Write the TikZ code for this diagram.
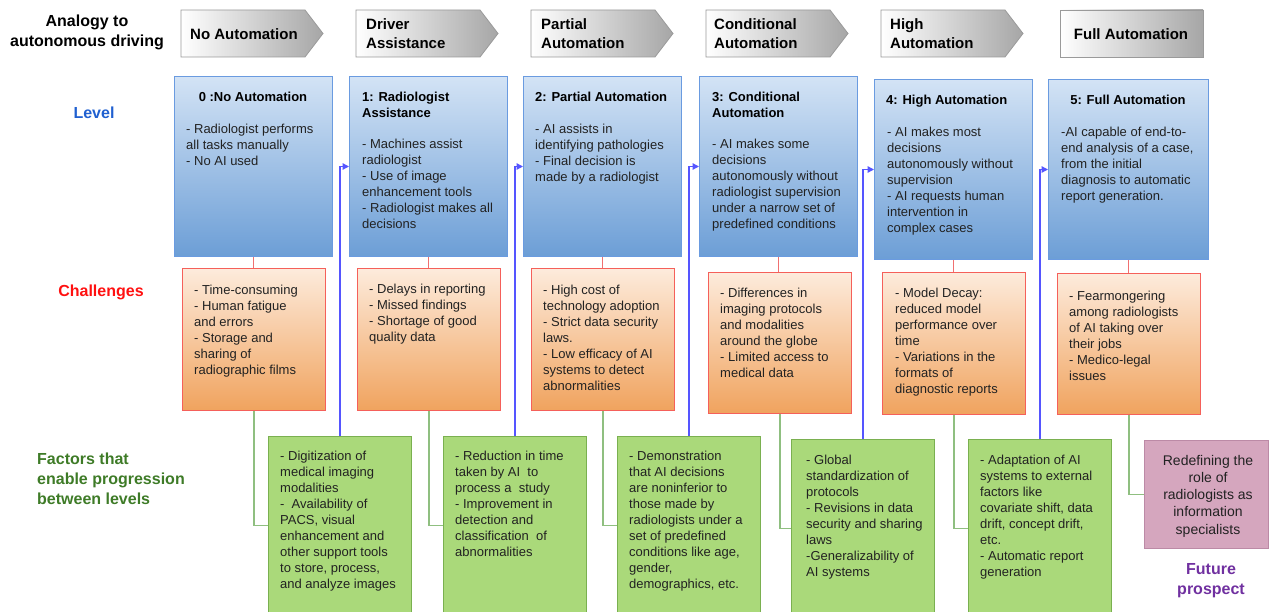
\documentclass[tikz,border=0pt]{standalone}
\usepackage{fontspec}
\setmainfont{Liberation Sans}
\usetikzlibrary{arrows.meta}
\definecolor{blueT}{HTML}{D3E3F5}
\definecolor{blueD}{HTML}{6C9ED6}
\definecolor{blueB}{HTML}{6A9BE0}
\definecolor{orT}{HTML}{FDEBDC}
\definecolor{orD}{HTML}{F0A35E}
\definecolor{orB}{HTML}{F5605A}
\definecolor{grF}{HTML}{AAD97A}
\definecolor{grB}{HTML}{7AB050}
\definecolor{pkF}{HTML}{D5A6BE}
\definecolor{pkB}{HTML}{BC8AA6}
\definecolor{redL}{HTML}{F07070}
\definecolor{grL}{HTML}{8FBF80}
\definecolor{blL}{HTML}{5555FF}
\definecolor{chevB}{HTML}{9A9A9A}
\definecolor{chevD}{HTML}{A6A6A6}
\definecolor{txtC}{HTML}{222222}
\definecolor{labBlue}{HTML}{2060D0}
\definecolor{labRed}{HTML}{FF1010}
\definecolor{labGreen}{HTML}{3E7B27}
\definecolor{labPurple}{HTML}{7030A0}
\begin{document}
\begin{tikzpicture}[x=1pt,y=1pt,
  lvl/.style={draw=blueB, line width=1pt, top color=blueT, bottom color=blueD, anchor=north west, inner sep=0, minimum width=158pt, minimum height=180pt},
  chl/.style={draw=orB, line width=1pt, top color=orT, bottom color=orD, anchor=north west, inner sep=0, minimum width=143pt, minimum height=142pt},
  fac/.style={draw=grB, line width=1pt, fill=grF, anchor=north west, inner sep=0, minimum width=143pt, minimum height=178pt},
  fut/.style={draw=pkB, line width=1pt, fill=pkF, anchor=north west, inner sep=0, minimum width=124pt, minimum height=108pt},
  txt/.style={anchor=north west, inner sep=0, align=left, font=\fontsize{13}{16}\selectfont, text=txtC},
  ttl/.style={inner sep=0, align=left, font=\bfseries\fontsize{13}{16}\selectfont, text=black},
  hdr/.style={inner sep=0, align=left, font=\bfseries\fontsize{15}{19}\selectfont, text=black},
  lab/.style={inner sep=0, font=\bfseries\fontsize{16}{20}\selectfont},
  redc/.style={draw=redL, line width=1.3pt},
  grc/.style={draw=grL, line width=1.3pt},
  blc/.style={draw=blL, line width=1.3pt, -{Triangle[length=6.5pt,width=6.5pt]}},
  chev/.style={draw=chevB, line width=0.8pt, left color=white, right color=chevD}
]
\useasboundingbox (0,0) rectangle (1269,-612);
\clip (0,0) rectangle (1269,-612);

% header chevrons
\foreach \L in {181,356,531,706,881}{
  \shade[chev] (\L,-10) -- ({\L+124},-10) -- ({\L+142},-33.5) -- ({\L+124},-57) -- (\L,-57) -- cycle;
}
\shade[chev] (1060,-10) rectangle (1203,-57);
\node[hdr, anchor=west] (h0) at (190,-34) {No Automation};
\node[hdr, anchor=west] (h1) at (366,-34) {Driver\\Assistance};
\node[hdr, anchor=west] (h2) at (541,-34) {Partial\\Automation};
\node[hdr, anchor=west] (h3) at (714,-34) {Conditional\\Automation};
\node[hdr, anchor=west] (h4) at (890,-34) {High\\Automation};
\node[hdr] (h5) at (1131,-34) {Full Automation};

% left labels
\node[lab, align=center] (lana) at (87,-32) {Analogy to\\autonomous driving};
\node[lab, text=labBlue] (llev) at (94,-113) {Level};
\node[lab, text=labRed] (lchl) at (101,-292) {Challenges};
\node[lab, text=labGreen, align=left, anchor=west] (lfac) at (37,-479) {Factors that\\enable progression\\between levels};
\node[lab, text=labPurple, align=center] (lfut) at (1211,-581) {Future\\prospect};

% level boxes
\node[lvl] (b0) at (174,-76) {};
\node[lvl] (b1) at (349,-76) {};
\node[lvl] (b2) at (523,-76) {};
\node[lvl] (b3) at (699,-76) {};
\node[lvl] (b4) at (874,-79) {};
\node[lvl, minimum width=160pt] (b5) at (1048,-79) {};

% challenge boxes
\node[chl] (o0) at (182,-268) {};
\node[chl] (o1) at (357,-268) {};
\node[chl] (o2) at (531,-268) {};
\node[chl, minimum height=141pt] (o3) at (708,-272) {};
\node[chl] (o4) at (882,-272) {};
\node[chl, minimum height=141pt] (o5) at (1057,-273) {};

% factor boxes
\node[fac] (g0) at (268,-436) {};
\node[fac] (g1) at (443,-436) {};
\node[fac] (g2) at (617,-436) {};
\node[fac] (g3) at (791,-439) {};
\node[fac] (g4) at (968,-439) {};
\node[fut] (p) at (1144,-440) {};

% connectors
\foreach \i in {0,...,5}{
  \draw[redc] (b\i.south) -- (b\i.south |- o\i.north);
}
\foreach \i in {0,...,4}{
  \draw[grc] (o\i.south) |- (g\i.west);
}
\draw[grc] (o5.south) |- (p.west);
\draw[blc] (g0.north) |- (b1.west);
\draw[blc] (g1.north) |- (b2.west);
\draw[blc] (g2.north) |- (b3.west);
\draw[blc] (g3.north) |- (b4.west);
\draw[blc] (g4.north) |- (b5.west);

% level texts
\node[ttl] (b0h) at (253,-97) {0 :No Automation};
\node[txt] (b0t) at (186,-124) {- Radiologist performs\\all tasks manually\\- No AI used};
\node[ttl, anchor=north west] (b1h) at (362,-92) {1: Radiologist\\Assistance};
\node[txt] (b1t) at (362,-139) {- Machines assist\\radiologist\\- Use of image\\enhancement tools\\- Radiologist makes all\\decisions};
\node[ttl, anchor=north west] (b2h) at (535,-92) {2: Partial Automation};
\node[txt] (b2t) at (535,-124) {- AI assists in\\identifying pathologies\\- Final decision is\\made by a radiologist};
\node[ttl, anchor=north west] (b3h) at (712,-92) {3: Conditional\\Automation};
\node[txt] (b3t) at (712,-139) {- AI makes some\\decisions\\autonomously without\\radiologist supervision\\under a narrow set of\\predefined conditions};
\node[ttl, anchor=north west] (b4h) at (886,-95) {4: High Automation};
\node[txt] (b4t) at (887,-127) {- AI makes most\\decisions\\autonomously without\\supervision\\- AI requests human\\intervention in\\complex cases};
\node[ttl] (b5h) at (1128,-100) {5: Full Automation};
\node[txt] (b5t) at (1061,-127) {-AI capable of end-to-\\end analysis of a case,\\from the initial\\diagnosis to automatic\\report generation.};

% challenge texts
\node[txt] (o0t) at (194,-285) {- Time-consuming\\- Human fatigue\\and errors\\- Storage and\\sharing of\\radiographic films};
\node[txt] (o1t) at (369,-284) {- Delays in reporting\\- Missed findings\\- Shortage of good\\quality data};
\node[txt] (o2t) at (543,-285) {- High cost of\\technology adoption\\- Strict data security\\laws.\\- Low efficacy of AI\\systems to detect\\abnormalities};
\node[txt] (o3t) at (720,-288) {- Differences in\\imaging protocols\\and modalities\\around the globe\\- Limited access to\\medical data};
\node[txt] (o4t) at (895,-288) {- Model Decay:\\reduced model\\performance over\\time\\- Variations in the\\formats of\\diagnostic reports};
\node[txt] (o5t) at (1069,-291) {- Fearmongering\\among radiologists\\of AI taking over\\their jobs\\- Medico-legal\\issues};

% factor texts
\node[txt] (g0t) at (280,-451) {- Digitization of\\medical imaging\\modalities\\-\ \ Availability of\\PACS, visual\\enhancement and\\other support tools\\to store, process,\\and analyze images};
\node[txt] (g1t) at (455,-451) {- Reduction in time\\taken by AI\ \ to\\process a\ \ study\\- Improvement in\\detection and\\classification\ \ of\\abnormalities};
\node[txt] (g2t) at (629,-451) {- Demonstration\\that AI decisions\\are noninferior to\\those made by\\radiologists under a\\set of predefined\\conditions like age,\\gender,\\demographics, etc.};
\node[txt] (g3t) at (806,-455) {- Global\\standardization of\\protocols\\- Revisions in data\\security and sharing\\laws\\-Generalizability of\\AI systems};
\node[txt] (g4t) at (980,-455) {- Adaptation of AI\\systems to external\\factors like\\covariate shift, data\\drift, concept drift,\\etc.\\- Automatic report\\generation};
\node[inner sep=0, align=center, font=\fontsize{14}{17.3}\selectfont, text=txtC] (pt) at (1208,-496) {Redefining the\\role of\\radiologists as\\information\\specialists};
\end{tikzpicture}
\end{document}
